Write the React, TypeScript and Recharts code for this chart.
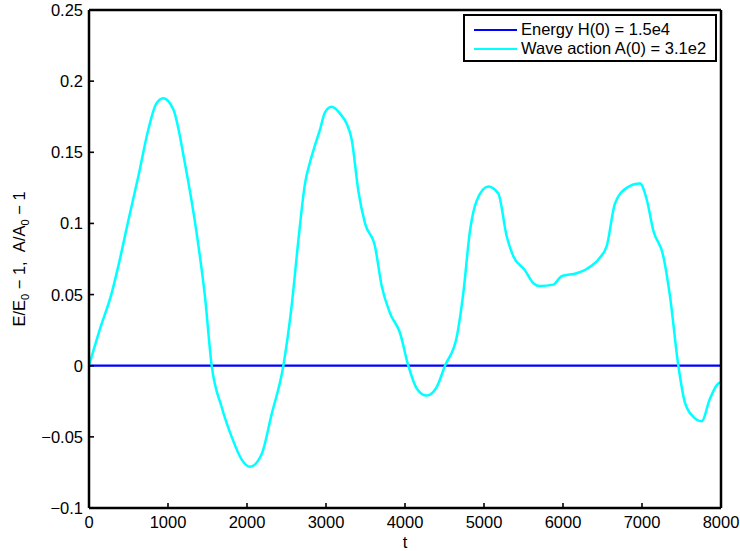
import React from "react";
import { LineChart, Line, XAxis, YAxis } from "recharts";

document.body.style.margin = "0";

// time samples and relative wave-action deviation
const tValues = [
  0, 140, 287, 371, 498, 624, 751, 850, 941, 1068, 1215, 1363, 1468, 1553, 1679,
  1806, 1933, 2038, 2186, 2312, 2460, 2565, 2650, 2734, 2797, 2861, 2924, 2987,
  3072, 3180, 3262, 3325, 3409, 3494, 3620, 3705, 3810, 3937, 4042, 4148, 4274,
  4401, 4506, 4654, 4738, 4823, 4907, 5055, 5181, 5287, 5371, 5519, 5624, 5709,
  5878, 5983, 6173, 6300, 6468, 6553, 6658, 6806, 6975, 7059, 7143, 7270, 7354,
  7460, 7544, 7650, 7755, 7861, 7987, 8000,
];
const actionValues = [
  0, 0.026, 0.051, 0.07, 0.102, 0.133, 0.166, 0.184, 0.188, 0.18, 0.142, 0.093,
  0.0485, 0, -0.029, -0.05, -0.066, -0.071, -0.062, -0.034, 0, 0.042, 0.088,
  0.128, 0.143, 0.155, 0.166, 0.178, 0.182, 0.177, 0.17, 0.159, 0.123, 0.1,
  0.084, 0.056, 0.037, 0.023, 0, -0.016, -0.021, -0.015, 0, 0.02, 0.051, 0.095,
  0.116, 0.126, 0.121, 0.091, 0.077, 0.067, 0.058, 0.056, 0.057, 0.063, 0.065,
  0.068, 0.076, 0.084, 0.114, 0.125, 0.128, 0.117, 0.095, 0.077, 0.049, 0,
  -0.026, -0.036, -0.039, -0.023, -0.012, -0.012,
];

// energy deviation stays at zero over the whole run
const energyT = [0, 8000];
const energyValues = [0, 0];

const xTicks = [0, 1000, 2000, 3000, 4000, 5000, 6000, 7000, 8000];
const yTicks = [-0.1, -0.05, 0, 0.05, 0.1, 0.15, 0.2, 0.25];

const legendRows = [
  { color: "#0000ff", label: "Energy H(0) = 1.5e4" },
  { color: "#00ffff", label: "Wave action A(0) = 3.1e2" },
];

const actionData = tValues.map((t, i) => ({ t, v: actionValues[i] }));
const energyData = energyT.map((t, i) => ({ t, v: energyValues[i] }));

const FONT = "'Liberation Sans', Arial, Helvetica, sans-serif";
const FS = 16.5;
const TICK = 5;
const fmtY = (v: number) => (v < 0 ? "\u2212" + String(Math.abs(v)) : String(v));

// matlab style: tick marks point into the plot box
function BottomTick(props: any) {
  const { x, y, payload } = props;
  const axisY = y - 8;
  return (
    <g>
      <path d={`M${x},${axisY}V${axisY - TICK}`} stroke="#000" strokeWidth={1.6} />
      <text x={x} y={y} dy={12} textAnchor="middle" fontSize={FS} fontFamily={FONT} fill="#000">
        {payload.value}
      </text>
    </g>
  );
}

function LeftTick(props: any) {
  const { x, y, payload } = props;
  const axisX = x + 6;
  return (
    <g>
      <path d={`M${axisX},${y}H${axisX + TICK}`} stroke="#000" strokeWidth={1.6} />
      <text x={x} y={y} dy={6} textAnchor="end" fontSize={FS} fontFamily={FONT} fill="#000">
        {fmtY(payload.value)}
      </text>
    </g>
  );
}

function TopTick(props: any) {
  const { x, y } = props;
  return <path d={`M${x},${y}V${y + TICK}`} stroke="#000" strokeWidth={1.6} />;
}

function RightTick(props: any) {
  const { x, y } = props;
  return <path d={`M${x},${y}H${x - TICK}`} stroke="#000" strokeWidth={1.6} />;
}

function YLabel() {
  return (
    <text
      transform="rotate(-90, 25, 259)"
      x={25}
      y={259}
      textAnchor="middle"
      fontSize={FS}
      fontFamily={FONT}
      fill="#000"
      style={{ whiteSpace: "pre" }}
    >
      E/E
      <tspan fontSize={11} dy={4}>0</tspan>
      <tspan dy={-4}>{" \u2212 1,\u00a0\u00a0A/A"}</tspan>
      <tspan fontSize={11} dy={4}>0</tspan>
      <tspan dy={-4}>{" \u2212 1"}</tspan>
    </text>
  );
}

function LegendBox() {
  return (
    <div
      style={{
        position: "absolute",
        left: 463,
        top: 14,
        border: "2px solid #000",
        background: "#fff",
        width: 254,
        height: 48,
        boxSizing: "border-box",
        padding: "4px 0 0 9px",
        fontFamily: FONT,
        fontSize: FS,
        lineHeight: "19px",
      }}
    >
      {legendRows.map((r) => (
        <div key={r.label} style={{ display: "flex", alignItems: "center" }}>
          <span
            style={{
              display: "inline-block",
              width: 43,
              height: 2,
              background: r.color,
              marginRight: 4,
            }}
          />
          <span>{r.label}</span>
        </div>
      ))}
    </div>
  );
}

const axisLine = { stroke: "#000", strokeWidth: 2.5, strokeOpacity: 1 };

export default function App() {
  return (
    <div style={{ position: "relative", width: 740, height: 551 }}>
      <LineChart
        width={740}
        height={551}
        margin={{ top: 9, right: 18, left: 0, bottom: 0 }}
      >
        <XAxis
          xAxisId="bottom"
          dataKey="t"
          type="number"
          domain={[0, 8000]}
          ticks={xTicks}
          allowDataOverflow
          height={43}
          tickSize={0}
          tickMargin={8}
          tick={BottomTick}
          stroke="#000"
          axisLine={axisLine}
          tickLine={false}
          label={{
            value: "t",
            position: "insideBottom",
            offset: 3,
            fill: "#000",
            fontSize: FS,
            fontFamily: FONT,
          }}
        />
        <XAxis
          xAxisId="top"
          orientation="top"
          dataKey="t"
          type="number"
          domain={[0, 8000]}
          ticks={xTicks}
          height={1}
          tickSize={0}
          tickMargin={0}
          tick={TopTick}
          stroke="#000"
          axisLine={axisLine}
          tickLine={false}
        />
        <YAxis
          yAxisId="left"
          type="number"
          domain={[-0.1, 0.25]}
          ticks={yTicks}
          allowDataOverflow
          width={89}
          tickSize={0}
          tickMargin={6}
          tick={LeftTick}
          stroke="#000"
          axisLine={axisLine}
          tickLine={false}
          label={{ content: () => <YLabel /> }}
        />
        <YAxis
          yAxisId="right"
          orientation="right"
          type="number"
          domain={[-0.1, 0.25]}
          ticks={yTicks}
          width={1}
          tickSize={0}
          tickMargin={0}
          tick={RightTick}
          stroke="#000"
          axisLine={axisLine}
          tickLine={false}
        />
        <Line
          xAxisId="bottom"
          yAxisId="left"
          data={energyData}
          dataKey="v"
          type="linear"
          stroke="#0000ff"
          strokeWidth={2.2}
          dot={false}
          isAnimationActive={false}
        />
        <Line
          xAxisId="bottom"
          yAxisId="left"
          data={actionData}
          dataKey="v"
          type="monotone"
          stroke="#00ffff"
          strokeWidth={2.5}
          dot={false}
          isAnimationActive={false}
        />
      </LineChart>
      <LegendBox />
    </div>
  );
}
